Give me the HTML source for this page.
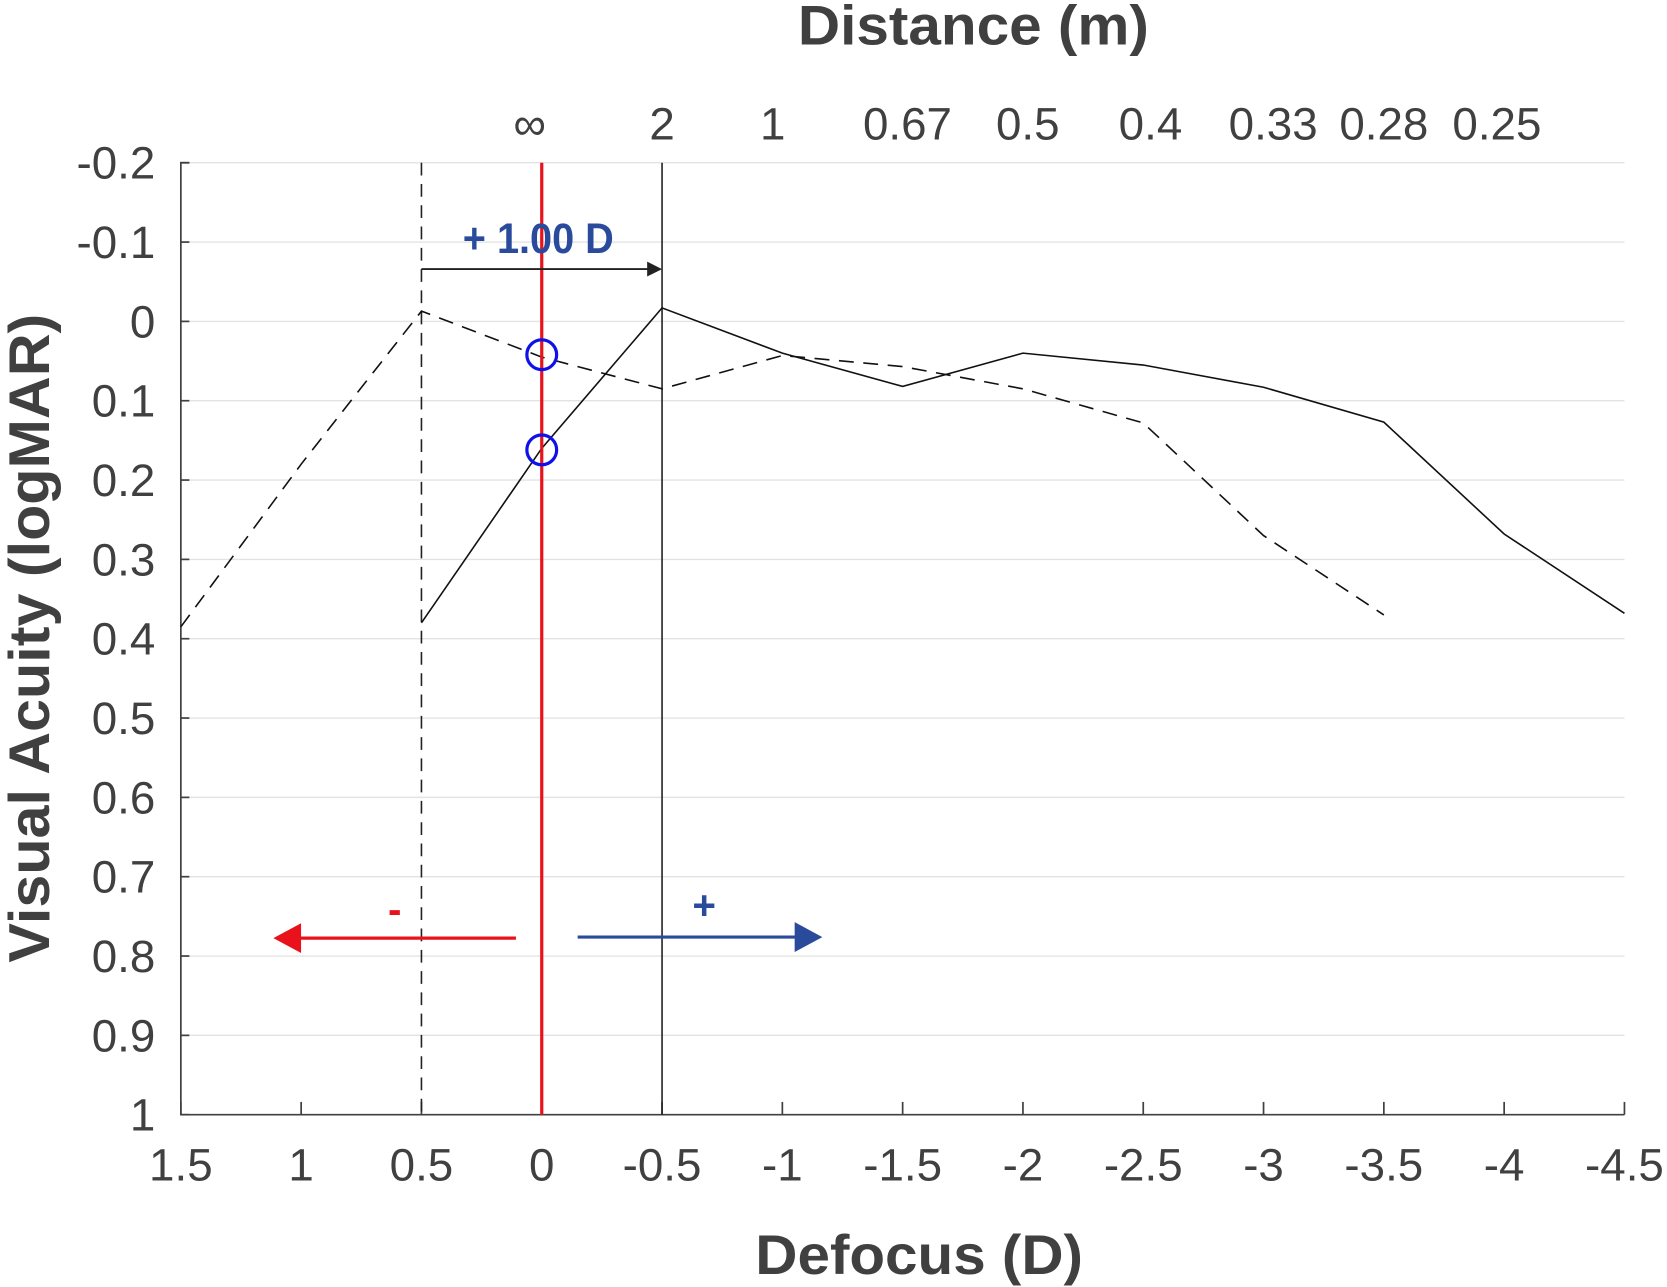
<!DOCTYPE html>
<html><head><meta charset="utf-8"><style>
html,body{margin:0;padding:0;background:#fff;}
svg{display:block;}
text{font-family:"Liberation Sans",sans-serif;fill:#404040;}
</style></head><body>
<svg id="chart" width="1667" height="1287" viewBox="0 0 1567 1210" preserveAspectRatio="none" xmlns="http://www.w3.org/2000/svg"></svg>
<script>
const xTicks=[1.5,1,0.5,0,-0.5,-1,-1.5,-2,-2.5,-3,-3.5,-4,-4.5];
const yTicks=[-0.2,-0.1,0,0.1,0.2,0.3,0.4,0.5,0.6,0.7,0.8,0.9,1];
const distLabels=["∞","2","1","0.67","0.5","0.4","0.33","0.28","0.25"];
const distPositions=[0.05,-0.5,-0.96,-1.52,-2.02,-2.53,-3.04,-3.5,-3.97];
const solidX=[0.5,0,-0.5,-1,-1.5,-2,-2.5,-3,-3.5,-4,-4.5];
const solidY=[0.38,0.16,-0.017,0.04,0.082,0.04,0.055,0.083,0.127,0.268,0.368];
const dashedX=[1.5,1,0.5,0,-0.5,-1,-1.5,-2,-2.5,-3,-3.5];
const dashedY=[0.385,0.18,-0.013,0.045,0.085,0.043,0.057,0.085,0.128,0.27,0.37];
const circleY=[0.042,0.162];

const NS="http://www.w3.org/2000/svg";
const svg=document.getElementById('chart');
const X0=170,X1=1527,Y0=153,Y1=1048;
function sx(v){return X0+(1.5-v)/6*(X1-X0);}
function sy(v){return Y0+(v+0.2)/1.2*(Y1-Y0);}
function mk(tag,attrs,parent){const e=document.createElementNS(NS,tag);for(const k in attrs)e.setAttribute(k,attrs[k]);(parent||svg).appendChild(e);return e;}

yTicks.forEach(v=>{if(v===1)return;const l=mk('line',{x1:X0,x2:X1,y1:sy(v),y2:sy(v),stroke:'#e3e3e3','stroke-width':1.3});

});
const ax=mk('path',{d:`M${X0+8},${Y0}H${X0}V${Y1}H${X1}`,fill:'none',stroke:'#404040','stroke-width':1.6});


yTicks.forEach(v=>{mk('line',{x1:X0,x2:X0+8,y1:sy(v),y2:sy(v),stroke:'#404040','stroke-width':1.6});
const t=mk('text',{x:146,y:sy(v)+15,'text-anchor':'end','font-size':43});t.textContent=String(v);

});
xTicks.forEach(v=>{mk('line',{x1:sx(v),x2:sx(v),y1:Y1,y2:Y1-12,stroke:'#404040','stroke-width':1.6});
const t=mk('text',{x:sx(v),y:1110,'text-anchor':'middle','font-size':43});t.textContent=String(v);

});
distLabels.forEach((s,i)=>{const t=mk('text',{x:sx(distPositions[i]),y:131,'text-anchor':'middle','font-size':43});t.textContent=s;

});

const v1=mk('line',{x1:sx(0.5),x2:sx(0.5),y1:Y0,y2:Y1,stroke:'#222','stroke-width':1.5,'stroke-dasharray':'12,8'});


const v2=mk('line',{x1:sx(-0.5),x2:sx(-0.5),y1:Y0,y2:Y1,stroke:'#222','stroke-width':1.5});



function pts(xs,ys){return xs.map((x,i)=>sx(x)+','+sy(ys[i])).join(' ');}
const s1=mk('polyline',{points:pts(dashedX,dashedY),fill:'none',stroke:'#111','stroke-width':1.5,'stroke-dasharray':'14,9'});


const s2=mk('polyline',{points:pts(solidX,solidY),fill:'none',stroke:'#111','stroke-width':1.5});



const rl=mk('line',{x1:sx(0),x2:sx(0),y1:Y0,y2:Y1,stroke:'#e8121c','stroke-width':3});


circleY.forEach(v=>{const c=mk('circle',{cx:sx(0),cy:sy(v),r:14,fill:'none',stroke:'#1010e8','stroke-width':3});

});

const a1=mk('line',{x1:sx(0.5),x2:sx(-0.5)-12,y1:253,y2:253,stroke:'#222','stroke-width':1.8});


mk('polygon',{points:`${sx(-0.5)},253 ${sx(-0.5)-14},246 ${sx(-0.5)-14},260`,fill:'#222'});
const lt=mk('text',{x:435,y:238,'font-size':40,'font-weight':'bold',textLength:142,lengthAdjust:'spacingAndGlyphs',style:'fill:#2a4a9c'});lt.textContent='+ 1.00 D';



const ra=mk('line',{x1:485,x2:280,y1:882,y2:882,stroke:'#e8121c','stroke-width':3});


mk('polygon',{points:'257,882 283,868 283,896',fill:'#e8121c'});
const rm=mk('text',{x:371,y:868,'text-anchor':'middle','font-size':38,'font-weight':'bold',style:'fill:#e8121c'});rm.textContent='-';


const ba=mk('line',{x1:543,x2:750,y1:881,y2:881,stroke:'#2a4a9c','stroke-width':3});


mk('polygon',{points:'773,881 747,867 747,895',fill:'#2a4a9c'});
const bp=mk('text',{x:662,y:864,'text-anchor':'middle','font-size':38,'font-weight':'bold',style:'fill:#2a4a9c'});bp.textContent='+';



const tt=mk('text',{x:750,y:42,'font-size':52,'font-weight':'bold',textLength:330,lengthAdjust:'spacingAndGlyphs'});tt.textContent='Distance (m)';


const bt=mk('text',{x:710,y:1198,'font-size':52,'font-weight':'bold',textLength:308,lengthAdjust:'spacingAndGlyphs'});bt.textContent='Defocus (D)';


const yt=mk('text',{x:-305,y:0,'font-size':54,'font-weight':'bold',textLength:610,lengthAdjust:'spacingAndGlyphs',transform:'translate(46,600) rotate(-90)'});yt.textContent='Visual Acuity (logMAR)';


</script>
</body></html>
